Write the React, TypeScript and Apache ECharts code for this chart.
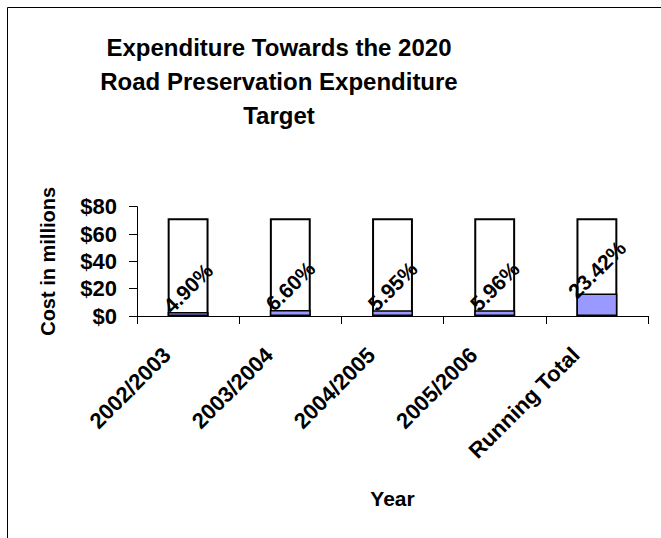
import React, { useEffect, useRef } from "react";
import * as echarts from "echarts";

const categories = ["2002/2003", "2003/2004", "2004/2005", "2005/2006", "Running Total"];
const targetValues = [71.5, 71.5, 71.5, 71.5, 71.5];
const actualValues = [2.9, 4.4, 4.2, 4.2, 16.4];
const percentLabels = ["4.90%", "6.60%", "5.95%", "5.96%", "23.42%"];
const yTicks = [0, 20, 40, 60, 80];

const FONT = "Liberation Sans, Arial, sans-serif";

export default function App() {
  const ref = useRef<HTMLDivElement>(null);
  useEffect(() => {
    if (!ref.current) return;
    const chart = echarts.init(ref.current, null, { renderer: "svg" });
    chart.setOption({
      animation: false,
      backgroundColor: "#fff",
      textStyle: { fontFamily: FONT },
      title: {
        text: "Expenditure Towards the 2020\nRoad Preservation Expenditure\nTarget",
        left: 274,
        top: 25,
        textAlign: "center",
        textStyle: {
          fontFamily: FONT,
          fontSize: 24,
          fontWeight: "bold",
          color: "#000",
          lineHeight: 34,
        },
      },
      graphic: [
        {
          type: "rect",
          shape: { x: 7.5, y: 7.5, width: 800, height: 800 },
          style: { fill: "none", stroke: "#000", lineWidth: 1 },
          silent: true,
        },
      ],
      grid: { left: 137, right: 13, top: 206.7, bottom: 222, containLabel: false },
      xAxis: {
        type: "category",
        data: categories,
        name: "Year",
        nameLocation: "middle",
        nameGap: 172,
        nameTextStyle: { fontFamily: FONT, fontSize: 21, fontWeight: "bold", color: "#000" },
        axisLine: { lineStyle: { color: "#000", width: 1 } },
        axisTick: { show: true, length: 8, lineStyle: { color: "#000" } },
        axisLabel: {
          interval: 0,
          rotate: 45,
          margin: 14,
          padding: [0, 30, 0, 0],
          fontFamily: FONT,
          fontSize: 22,
          fontWeight: "bold",
          color: "#000",
        },
      },
      yAxis: {
        type: "value",
        min: yTicks[0],
        max: yTicks[yTicks.length - 1],
        interval: 20,
        name: "Cost in millions",
        nameLocation: "middle",
        nameRotate: 90,
        nameGap: 79,
        nameTextStyle: { fontFamily: FONT, fontSize: 20, fontWeight: "bold", color: "#000" },
        axisLine: { show: true, lineStyle: { color: "#000", width: 1 } },
        axisTick: { show: true, length: 8, lineStyle: { color: "#000" } },
        splitLine: { show: false },
        axisLabel: {
          margin: 20,
          fontFamily: FONT,
          fontSize: 22,
          fontWeight: "bold",
          color: "#000",
          formatter: (v: number) => "$" + v,
        },
      },
      series: [
        {
          name: "Target",
          type: "bar",
          data: targetValues,
          barWidth: "40%",
          itemStyle: { color: "#fff", borderColor: "#000", borderWidth: 2 },
          silent: true,
        },
        {
          name: "Actual",
          type: "bar",
          data: actualValues,
          barWidth: "40%",
          barGap: "-100%",
          itemStyle: { color: "#9999FF", borderColor: "#000", borderWidth: 1.5 },
          label: {
            show: true,
            position: "top",
            distance: 24,
            rotate: 45,
            align: "center",
            verticalAlign: "middle",
            fontFamily: FONT,
            fontSize: 21,
            fontWeight: "bold",
            color: "#000",
            formatter: (p: any) => percentLabels[p.dataIndex],
          },
          silent: true,
        },
      ],
    });
    return () => chart.dispose();
  }, []);
  return (
    <div
      ref={ref}
      style={{ position: "fixed", left: 0, top: 0, width: 661, height: 538, background: "#fff" }}
    />
  );
}
